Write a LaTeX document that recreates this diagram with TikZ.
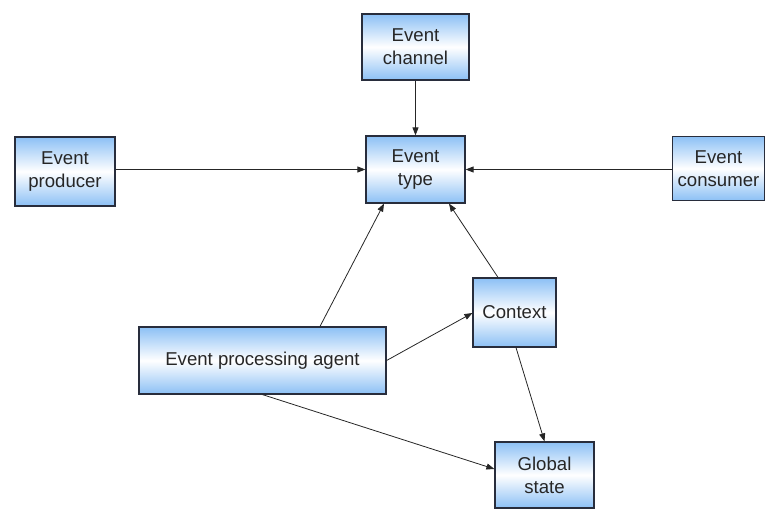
\documentclass[tikz,border=0pt]{standalone}
\usepackage{fontspec}
\setmainfont{Liberation Sans}
\usetikzlibrary{arrows.meta}
\definecolor{boxblue}{RGB}{140,192,245}
\definecolor{boxedge}{RGB}{40,45,60}
\begin{document}
\begin{tikzpicture}[x=1pt,y=-1pt,
  block/.style={draw=boxedge, line width=1.2pt, top color=boxblue, bottom color=boxblue,
    middle color=white, align=center, inner sep=0pt,
    font=\fontsize{18.6}{23}\selectfont, text=black!85},
  link/.style={draw=black!85, line width=0.8pt, -{Triangle[length=8pt,width=6pt]}}]
\useasboundingbox (0,0) rectangle (765,513);
% boxes, placed by their centres
\node[block, minimum width=107pt, minimum height=66pt] (chan) at (415.5,47) {Event\\channel};
\node[block, minimum width=99pt, minimum height=67pt] (type) at (415.5,169.5) {Event\\type};
\node[block, minimum width=100pt, minimum height=69pt] (prod) at (65,171.5) {Event\\producer};
\node[block, minimum width=92pt, minimum height=64pt] (cons) at (718.5,168.5) {Event\\consumer};
\node[block, minimum width=247pt, minimum height=67pt] (agent) at (262.5,360.5) {Event processing agent};
\node[block, minimum width=83pt, minimum height=69pt] (ctx) at (514.5,312.5) {Context};
\node[block, minimum width=99pt, minimum height=66pt] (glob) at (544.5,475) {Global\\state};
% connectors
\draw[link] (chan.south) -- (type.north);
\draw[link] (prod.east |- type.west) -- (type.west);
\draw[link] (cons.west |- type.east) -- (type.east);
\draw[link] ([xshift=57.5pt]agent.north) -- ([xshift=-31.5pt]type.south);
\draw[link] ([xshift=-16.5pt]ctx.north) -- ([xshift=33.5pt]type.south);
\draw[link] (agent.east) -- ([yshift=-0.5pt]ctx.west);
\draw[link] ([xshift=1.5pt]ctx.south) -- (glob.north);
\draw[link] (agent.south) -- ([yshift=6pt]glob.west);
\end{tikzpicture}
\end{document}
